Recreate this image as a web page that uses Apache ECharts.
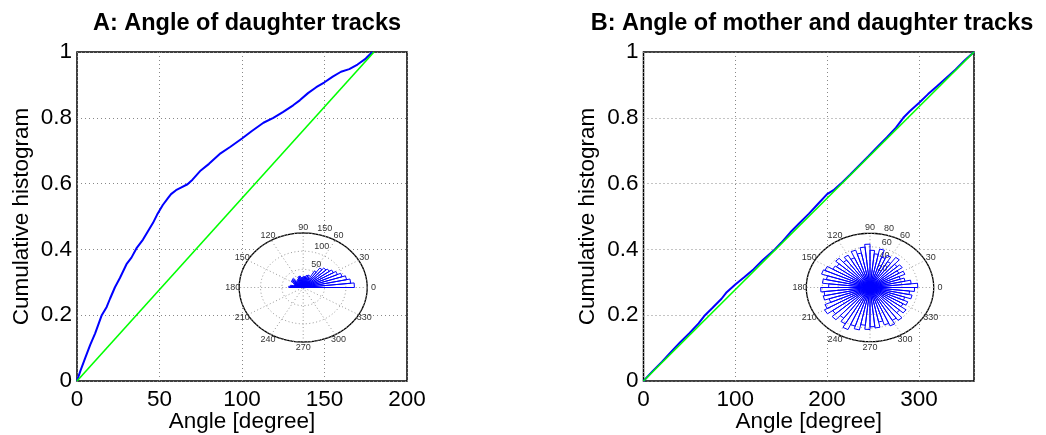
<!DOCTYPE html>
<html><head><meta charset="utf-8">
<script src="https://cdn.jsdelivr.net/npm/echarts@6/dist/echarts.min.js"></script>
<style>html,body{margin:0;padding:0;background:#fff}#c{width:1046px;height:435px}</style>
</head><body><div id="c"></div>
<script>
const FONT = '"Liberation Sans", Arial, Helvetica, sans-serif';
const titleA = 'A: Angle of daughter tracks';
const titleB = 'B: Angle of mother and daughter tracks';
const xNameText = 'Angle [degree]';
const yNameText = 'Cumulative histogram';

// Panel A cumulative histogram (angle in degrees, cumulative fraction)
const cumAngleA = [0,2,5,8,11,15,18,20,23,26,30,33,36,40,43,46,48.5,52,55,57,60,63,67,70,75,80,87,93,100,106,113,119,125,131,135,140,145,150,155,160,165,170,175,179];
const cumValueA = [0,0.03,0.07,0.11,0.145,0.2,0.225,0.25,0.285,0.313,0.355,0.375,0.403,0.43,0.455,0.48,0.505,0.535,0.555,0.568,0.58,0.588,0.598,0.612,0.64,0.66,0.692,0.712,0.737,0.76,0.785,0.8,0.818,0.838,0.853,0.875,0.893,0.908,0.925,0.94,0.948,0.962,0.98,1];
const uniformAngleA = [0,180];
const uniformValueA = [0,1];

// Panel B cumulative histogram
const cumAngleB = [0,10,20,30,40,50,60,67,75,85,90,100,110,120,130,143,150,160,170,180,190,200,207,215,225,235,245,255,265,275,283,290,300,310,320,330,340,350,360];
const cumValueB = [0,0.03,0.058,0.088,0.118,0.145,0.175,0.2,0.222,0.25,0.268,0.293,0.316,0.34,0.368,0.4,0.42,0.452,0.48,0.508,0.538,0.568,0.58,0.6,0.627,0.655,0.683,0.712,0.74,0.77,0.8,0.82,0.845,0.872,0.897,0.922,0.947,0.975,1];
const uniformAngleB = [0,360];
const uniformValueB = [0,1];

// Axis ticks
const xMaxA = 200, xIntervalA = 50;
const xMaxB = 360, xIntervalB = 100;
const yMax = 1, yInterval = 0.2;

// Rose (polar histogram) insets: counts per 6-degree bin starting at 0 degrees
const roseBinWidth = 6;
const roseCountsA = [120,112,104,96,88,82,76,72,66,52,28,36,34,30,30,28,27,32,31,26,24,22,34,33,32,25,21,22,30,34];
const roseCountsB = [60,52,45,40,48,42,50,46,55,44,52,47,58,50,55,64,60,52,58,48,55,50,58,52,54,62,64,56,60,52,62,58,60,54,62,66,58,64,56,62,68,60,64,56,62,58,60,52,58,62,56,60,50,56,48,52,46,54,50,56];
const roseRingsA = [50,100,150];
const roseRingsB = [20,40,60,80];
const roseAngleLabels = [0,30,60,90,120,150,180,210,240,270,300,330];
const roseSpokes = [30,60,90,120,150,180];

const D = Math.PI/180;
function ellipsePts(api, r){
  const p=[]; for(let k=0;k<=144;k++){const a=k/144*2*Math.PI; p.push(api.coord([r*Math.cos(a), r*Math.sin(a)]));} return p;
}
function insetSeries(gi, rings, counts){
  const rmax = rings[rings.length-1];
  const rinc = rings[0];
  return [
    {type:'custom', xAxisIndex:gi, yAxisIndex:gi, z:3, silent:true, data:[rmax],
      renderItem(params, api){ const r=api.value(0);
        return {type:'polygon', shape:{points:ellipsePts(api,r)}, style:{fill:'#fff', stroke:'#000', lineWidth:1.3}}; }},
    {type:'custom', xAxisIndex:gi, yAxisIndex:gi, z:4, silent:true, data:rings,
      renderItem(params, api){ const r=api.value(0);
        const a = 82*D, rr = r + rinc/20;
        const p = api.coord([rr*Math.cos(a), rr*Math.sin(a)]);
        return {type:'group', children:[
          {type:'polyline', shape:{points:ellipsePts(api,r)}, style:{fill:'none', stroke:'#999', lineWidth:1, lineDash:[1,2.5]}},
          {type:'text', x:p[0], y:p[1], style:{text:'  '+r, fill:'#333', fontSize:9, fontFamily:FONT, align:'left', verticalAlign:'bottom'}}
        ]}; }},
    {type:'custom', xAxisIndex:gi, yAxisIndex:gi, z:4, silent:true, data:roseSpokes,
      renderItem(params, api){ const a=api.value(0)*D;
        const p1=api.coord([-rmax*Math.cos(a), -rmax*Math.sin(a)]), p2=api.coord([rmax*Math.cos(a), rmax*Math.sin(a)]);
        return {type:'line', shape:{x1:p1[0],y1:p1[1],x2:p2[0],y2:p2[1]}, style:{stroke:'#999', lineWidth:1, lineDash:[1,2.5]}}; }},
    {type:'custom', xAxisIndex:gi, yAxisIndex:gi, z:4, silent:true, data:roseAngleLabels,
      renderItem(params, api){ const ang=api.value(0); const a=ang*D;
        const p=api.coord([1.1*rmax*Math.cos(a), 1.1*rmax*Math.sin(a)]);
        return {type:'text', x:p[0], y:p[1], style:{text:String(ang), fill:'#333', fontSize:9, fontFamily:FONT, align:'center', verticalAlign:'middle'}}; }},
    {type:'custom', xAxisIndex:gi, yAxisIndex:gi, z:6, silent:true, data:counts.map((c,i)=>[i,c]),
      renderItem(params, api){ const i=api.value(0), r=api.value(1); if(!r) return null;
        const a1=i*roseBinWidth*D, a2=(i+1)*roseBinWidth*D;
        const pts=[api.coord([0,0]), api.coord([r*Math.cos(a1), r*Math.sin(a1)]), api.coord([r*Math.cos(a2), r*Math.sin(a2)])];
        return {type:'polygon', shape:{points:pts}, style:{fill:'none', stroke:'#0000ff', lineWidth:1}}; }}
  ];
}

const split = {show:true, lineStyle:{color:'#888', type:[1,3], width:1}};
const lab = {fontSize:22.5, color:'#000', fontFamily:FONT};
function xAx(gi, max, interval, showMax){
  return {gridIndex:gi, type:'value', min:0, max:max, interval:interval, name:xNameText, nameLocation:'middle', nameGap:29, nameMoveOverlap:false,
    nameTextStyle:{fontSize:22.5, color:'#000', fontFamily:FONT}, axisLine:{show:false}, axisTick:{show:false},
    axisLabel:Object.assign({margin:7, showMaxLabel:showMax}, lab), splitLine:split};
}
function yAx(gi){
  return {gridIndex:gi, type:'value', min:0, max:yMax, interval:yInterval, name:yNameText, nameLocation:'middle', nameGap:44,
    nameTextStyle:{fontSize:22.5, color:'#000', fontFamily:FONT}, axisLine:{show:false}, axisTick:{show:false},
    axisLabel:Object.assign({margin:5}, lab), splitLine:split};
}
function hid(gi, R){ return {gridIndex:gi, type:'value', min:-R, max:R, show:false}; }

const chart = echarts.init(document.getElementById('c'), null, {renderer:'canvas'});
chart.setOption({
  animation:false,
  backgroundColor:'#fff',
  title:[
    {text:titleA, left:242, top:7, textAlign:'center', textStyle:{fontSize:23.5, fontWeight:'bold', color:'#000', fontFamily:FONT}},
    {text:titleB, left:807, top:7, textAlign:'center', textStyle:{fontSize:23.5, fontWeight:'bold', color:'#000', fontFamily:FONT}}
  ],
  grid:[
    {left:77, top:52, width:330, height:329, show:true, borderColor:'#000', borderWidth:1.5, containLabel:false, outerBoundsMode:'none'},
    {left:643.5, top:52, width:330.5, height:329, show:true, borderColor:'#000', borderWidth:1.5, containLabel:false, outerBoundsMode:'none'},
    {left:239.2, top:233, width:128, height:109, outerBoundsMode:'none'},
    {left:806.3, top:233.3, width:127.4, height:108.4, outerBoundsMode:'none'}
  ],
  xAxis:[xAx(0,xMaxA,xIntervalA,true), xAx(1,xMaxB,xIntervalB,false), hid(2,roseRingsA[2]), hid(3,roseRingsB[3])],
  yAxis:[yAx(0), yAx(1), hid(2,roseRingsA[2]), hid(3,roseRingsB[3])],
  series:[
    {type:'line', xAxisIndex:0, yAxisIndex:0, showSymbol:false, data:cumAngleA.map((x,i)=>[x,cumValueA[i]]), lineStyle:{color:'#0000ff', width:2}, z:2},
    {type:'line', xAxisIndex:0, yAxisIndex:0, showSymbol:false, data:uniformAngleA.map((x,i)=>[x,uniformValueA[i]]), lineStyle:{color:'#00ff00', width:1.6}, z:2},
    {type:'line', xAxisIndex:1, yAxisIndex:1, showSymbol:false, data:cumAngleB.map((x,i)=>[x,cumValueB[i]]), lineStyle:{color:'#0000ff', width:2}, z:2},
    {type:'line', xAxisIndex:1, yAxisIndex:1, showSymbol:false, data:uniformAngleB.map((x,i)=>[x,uniformValueB[i]]), lineStyle:{color:'#00ff00', width:1.6}, z:2},
    ...insetSeries(2, roseRingsA, roseCountsA),
    ...insetSeries(3, roseRingsB, roseCountsB)
  ]
});
</script></body></html>
